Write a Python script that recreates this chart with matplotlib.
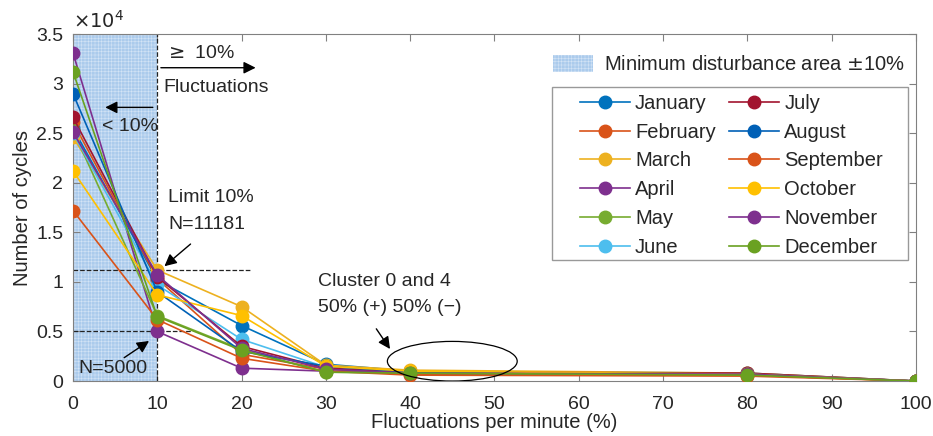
import matplotlib.pyplot as plt
from matplotlib.patches import Ellipse, Patch, Rectangle
import numpy as np

plt.rcParams['font.family'] = ['Liberation Sans', 'DejaVu Sans']
plt.rcParams['hatch.linewidth'] = 0.4

# fluctuation levels (%) where counts were taken
x = [0, 10, 20, 30, 40, 80, 100]

# number of cycles, x 10^4
months = ["January", "February", "March", "April", "May", "June",
          "July", "August", "September", "October", "November", "December"]
cycles = {
    "January":   [2.55, 1.02, 0.56, 0.17, 0.10, 0.08, 0],
    "February":  [2.61, 1.03, 0.27, 0.12, 0.07, 0.06, 0],
    "March":     [2.46, 1.12, 0.75, 0.16, 0.11, 0.08, 0],
    "April":     [3.31, 0.50, 0.13, 0.10, 0.08, 0.07, 0],
    "May":       [2.53, 0.66, 0.32, 0.09, 0.08, 0.06, 0],
    "June":      [2.50, 0.97, 0.42, 0.14, 0.09, 0.07, 0],
    "July":      [2.66, 1.05, 0.35, 0.13, 0.09, 0.08, 0],
    "August":    [2.90, 0.90, 0.30, 0.15, 0.09, 0.07, 0],
    "September": [1.72, 0.62, 0.23, 0.10, 0.06, 0.05, 0],
    "October":   [2.12, 0.87, 0.66, 0.15, 0.10, 0.07, 0],
    "November":  [2.51, 1.07, 0.33, 0.12, 0.08, 0.07, 0],
    "December":  [3.12, 0.65, 0.31, 0.09, 0.08, 0.06, 0],
}
colors = ["#0072BD", "#D95319", "#EDB120", "#7E2F8E", "#77AC30", "#4DBEEE",
          "#A2142F", "#0060B6", "#D95319", "#FFC000", "#7E2F8E", "#6AA121"]

limit_n = 11181
min_n = 5000

fig = plt.figure(figsize=(9.33, 4.36), dpi=100)
ax = fig.add_axes([0.0782, 0.126, 0.9035, 0.796])

txt = '#262626'
fs = 14
lfs = 14.5

# shaded minimum-disturbance area
span = ax.axvspan(0, 10, facecolor='#abcbec', edgecolor='#d3e4f5', hatch='+++++',
                  linewidth=0, zorder=0)

handles = []
for m, c in zip(months, colors):
    y = np.array(cycles[m]) * 1e4
    h, = ax.plot(x, y, '-o', color=c, lw=1.2, ms=9, label=m, zorder=3)
    handles.append(h)

# reference lines
ax.plot([10, 10], [0, 3.5e4], '--', color='#222222', lw=0.9, zorder=2)
ax.plot([0, 21], [limit_n, limit_n], '--', color='#222222', lw=0.9, zorder=2)
ax.plot([0, 14], [min_n, min_n], '--', color='#222222', lw=0.9, zorder=2)

ax.set_xlim(0, 100)
ax.set_ylim(0, 3.5e4)
ax.set_xticks(range(0, 101, 10))
yt = np.arange(0, 3.51, 0.5)
ax.set_yticks(yt * 1e4)
ax.set_yticklabels(['0' if v == 0 else ('%g' % v) for v in yt])
ax.tick_params(direction='in', top=True, right=True, labelsize=fs,
               colors='#808080', labelcolor=txt, length=5)
ax.tick_params(axis='x', pad=11)
ax.tick_params(axis='y', pad=7)
for s in ax.spines.values():
    s.set_color('#808080')
ax.set_xlabel("Fluctuations per minute (%)", fontsize=fs + 0.5, color=txt, labelpad=0)
ax.set_ylabel("Number of cycles", fontsize=fs + 0.5, color=txt, labelpad=3)
ax.text(0.0, 1.005, r'$\times 10^4$', transform=ax.transAxes, fontsize=fs,
        color=txt, ha='left', va='bottom')

# annotations
arr = dict(arrowstyle='-|>', color='black', lw=1, mutation_scale=18)
ax.text(10.9, 3.3e4, r'$\geq$ 10%', fontsize=fs, color=txt, va='center')
ax.annotate('', xy=(22, 3.16e4), xytext=(10.1, 3.16e4), arrowprops=arr)
ax.text(10.7, 2.96e4, 'Fluctuations', fontsize=fs, color=txt, va='center')
ax.annotate('', xy=(3.5, 2.76e4), xytext=(9.8, 2.76e4), arrowprops=arr)
ax.text(3.4, 2.57e4, '< 10%', fontsize=fs, color=txt, va='center')
ax.text(11.3, 1.85e4, 'Limit 10%', fontsize=fs, color=txt, va='center')
ax.text(11.3, 1.58e4, 'N=11181', fontsize=fs, color=txt, va='center')
ax.annotate('', xy=(10.6, 1.14e4), xytext=(14.2, 1.4e4), arrowprops=arr)
ax.text(0.6, 0.13e4, 'N=5000', fontsize=fs, color=txt, va='center')
ax.annotate('', xy=(9.3, 0.42e4), xytext=(5.8, 0.22e4), arrowprops=arr)
ax.text(29.1, 1.0e4, 'Cluster 0 and 4', fontsize=fs, color=txt, va='center')
ax.text(29.1, 0.74e4, '50% (+) 50% (\u2212)', fontsize=fs, color=txt, va='center')
ax.annotate('', xy=(37.8, 0.3e4), xytext=(35.8, 0.55e4), arrowprops=arr)
ax.add_patch(Ellipse((45, 0.2e4), 15.4, 0.4e4, fill=False, edgecolor='black',
                     lw=0.9, zorder=4))

patch = Patch(facecolor='#abcbec', edgecolor='#d3e4f5', hatch='+++++', lw=0)
leg1 = ax.legend([patch], ['Minimum disturbance area $\\pm$10%'], loc='upper left',
                 bbox_to_anchor=(0.569, 0.94), frameon=False, fontsize=lfs,
                 handlelength=2.0, handleheight=0.95, handletextpad=0.55,
                 borderpad=0, borderaxespad=0)
ax.add_artist(leg1)

# frame of the month legend (wider than matplotlib's own padding)
ax.add_patch(Rectangle((0.568, 0.349), 0.4225, 0.498, transform=ax.transAxes,
                       facecolor='white', edgecolor='#999999', lw=1, zorder=5))
leg2 = ax.legend(handles=handles, ncol=2, loc='upper left',
                 bbox_to_anchor=(0.601, 0.828), fontsize=lfs, frameon=False,
                 handlelength=2.5, handletextpad=0.25, labelspacing=0.49,
                 columnspacing=0.65, borderpad=0, borderaxespad=0)
leg2.set_zorder(6)
for t in leg2.get_texts() + leg1.get_texts():
    t.set_color(txt)

fig.savefig("out.png", dpi=100)
